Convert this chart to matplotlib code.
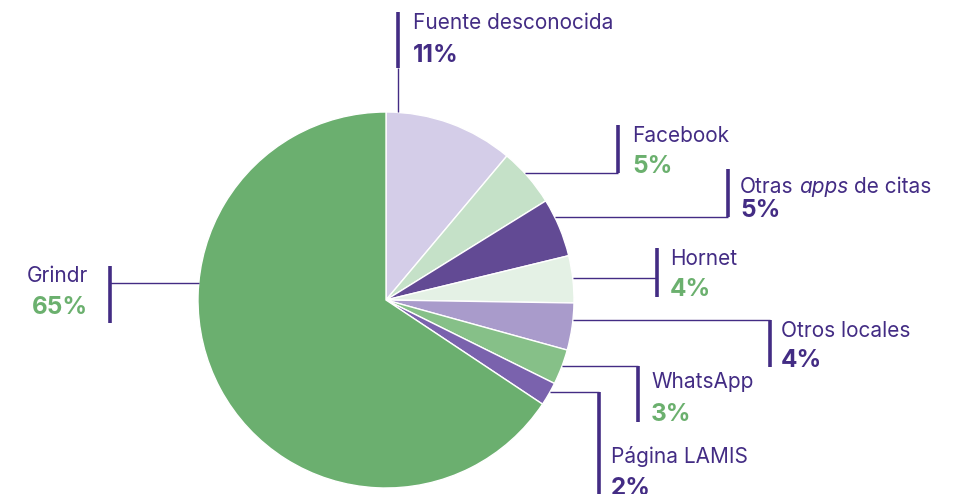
import matplotlib
matplotlib.use("Agg")
import matplotlib.pyplot as plt
import numpy as np

# ---- data ----
categories = ["Fuente desconocida", "Facebook", "Otras apps de citas", "Hornet",
              "Otros locales", "WhatsApp", "Página LAMIS", "Grindr"]
values = [11, 5, 5, 4, 4, 3, 2, 65]
pct_labels = ["11%", "5%", "5%", "4%", "4%", "3%", "2%", "65%"]

# ---- style ----
wedge_colors = ["#D4CDE8", "#C5E1C8", "#624A94", "#E4F1E5",
                "#A99BCB", "#86C088", "#7A62AD", "#6BAF6F"]
PURPLE = "#432C84"
GREEN = "#6BB06E"
pct_colors = [PURPLE, GREEN, PURPLE, GREEN, PURPLE, GREEN, PURPLE, GREEN]
FONT = "Inter"

W, H = 961, 494
fig = plt.figure(figsize=(W / 100, H / 100), dpi=100)
ax = fig.add_axes([0, 0, 1, 1])

def Y(y_img):
    return H - y_img

cx, cy, R = 386, Y(300), 188
ax.pie(values, colors=wedge_colors, startangle=90, counterclock=False,
       center=(cx, cy), radius=R, frame=True,
       wedgeprops=dict(edgecolor="white", linewidth=1.0))
ax.set_xlim(0, W)
ax.set_ylim(0, H)
ax.set_aspect("equal")
ax.axis("off")

# ---- label layout (image pixel coords) ----
# (line_y, bar_x, bar_top, bar_bottom, text_x, name_baseline, pct_baseline, side)
layout = {
    "Facebook": (173, 618, 125, 173, 632, 142, 173, "r"),
    "Otras apps de citas": (217, 728, 169, 217, 740, 193, 217, "r"),
    "Hornet": (278, 657, 248, 297, 670, 265, 296, "r"),
    "Otros locales": (320, 770, 320, 367, 781, 337, 367, "r"),
    "WhatsApp": (366, 638, 366, 422, 651, 388, 421, "r"),
    "Página LAMIS": (392, 599, 392, 494, 611, 463, 495, "r"),
    "Grindr": (283, 110, 266, 323, 88, 282, 314, "l"),
}
thin_lw, bar_lw = 1.0, 2.6
name_fs, pct_fs = 15, 17.5

renderer = fig.canvas.get_renderer()

def text_w(s, **kw):
    t = ax.text(0, 0, s, **kw)
    w = t.get_window_extent(renderer).width
    t.remove()
    return w

for i, cat in enumerate(categories):
    if cat == "Fuente desconocida":
        bx = 398
        dy = bx - cx
        top_y = cy + np.sqrt(R**2 - dy**2)
        ax.plot([bx, bx], [top_y, Y(68)], color=PURPLE, lw=thin_lw, solid_capstyle="butt")
        ax.plot([bx, bx], [Y(12), Y(68)], color=PURPLE, lw=bar_lw, solid_capstyle="butt")
        ax.text(413, Y(29), cat, fontsize=name_fs, family=FONT, color=PURPLE, va="baseline")
        ax.text(413, Y(62), pct_labels[i], fontsize=pct_fs, family=FONT, color=pct_colors[i],
                fontweight="bold", va="baseline")
        continue
    ly, bx, bt, bb, tx, nb, pb, side = layout[cat]
    dyv = Y(ly) - cy
    dx = np.sqrt(R**2 - dyv**2)
    x0 = cx + dx if side == "r" else cx - dx
    ax.plot([x0, bx], [Y(ly), Y(ly)], color=PURPLE, lw=thin_lw, solid_capstyle="butt")
    ax.plot([bx, bx], [Y(bt), Y(bb)], color=PURPLE, lw=bar_lw, solid_capstyle="butt")
    ha = "left" if side == "r" else "right"
    if cat == "Otras apps de citas":
        kw = dict(fontsize=name_fs, family=FONT, color=PURPLE, va="baseline", ha="left")
        space = text_w("a a", **kw) - text_w("aa", **kw)
        x = tx
        for part, style in [("Otras", "normal"), ("apps", "italic"), ("de citas", "normal")]:
            t = ax.text(x, Y(nb), part, style=style, **kw)
            x += t.get_window_extent(renderer).width + space
    else:
        ax.text(tx, Y(nb), cat, fontsize=name_fs, family=FONT, color=PURPLE,
                va="baseline", ha=ha)
    ax.text(tx, Y(pb), pct_labels[i], fontsize=pct_fs, family=FONT, color=pct_colors[i],
            fontweight="bold", va="baseline", ha=ha)

fig.savefig("out.png", dpi=100, facecolor="white")
